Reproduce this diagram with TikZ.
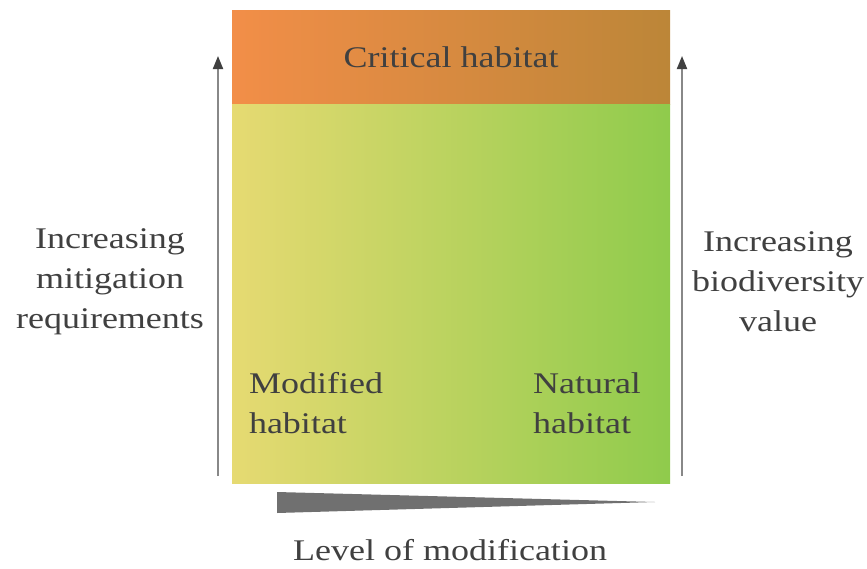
\documentclass[tikz,border=0pt]{standalone}
\usepackage{fontspec}
\setmainfont{Liberation Serif}[FakeStretch=1.2]
\usepackage{tikz}
\usetikzlibrary{arrows.meta,positioning}

\definecolor{critL}{RGB}{242,142,72}
\definecolor{critR}{RGB}{188,134,56}
\definecolor{modL}{RGB}{230,218,114}
\definecolor{natR}{RGB}{143,203,76}
\definecolor{ink}{RGB}{64,64,64}
\definecolor{shaft}{RGB}{136,136,136}

\tikzset{
  lbl/.style={text=ink, font=\fontsize{30}{40}\selectfont, align=center},
  zone/.style={rectangle, inner sep=0pt, minimum width=438pt},
  axisarrow/.style={draw=shaft, line width=2pt,
    -{Triangle[width=10pt,length=13pt,color=ink]}}
}

\begin{document}
\begin{tikzpicture}[x=1pt,y=1pt]
  \useasboundingbox (0,0) rectangle (867,-568);

  % habitat zones
  \node[zone, minimum height=94pt, left color=critL, right color=critR] (crit) at (451,-57) {};
  \node[zone, minimum height=379pt, left color=modL, right color=natR] (field) at (451,-293.5) {};

  \node[lbl] (critlbl) at (crit.center) {Critical habitat};
  \node[lbl, align=left] (modlbl) at (316,-403) {Modified\\habitat};
  \node[lbl, align=left] (natlbl) at (587,-403) {Natural\\habitat};

  % side arrows
  \coordinate (lb) at (218,-476);
  \coordinate (lt) at (218,-56);
  \coordinate (rb) at (682,-476);
  \coordinate (rt) at (682,-56);
  \draw[axisarrow] (lb) -- (lt);
  \draw[axisarrow] (rb) -- (rt);

  \node[lbl] (mitig) at (110,-282) {Increasing\\mitigation\\requirements};
  \node[lbl] (biodiv) at (778,-282) {Increasing\\biodiversity\\value};

  % modification wedge
  \fill[ink!75] (277,-492) -- (655,-502) -- (277,-513) -- cycle;
  \node[lbl] (level) at (450,-550) {Level of modification};
\end{tikzpicture}
\end{document}
